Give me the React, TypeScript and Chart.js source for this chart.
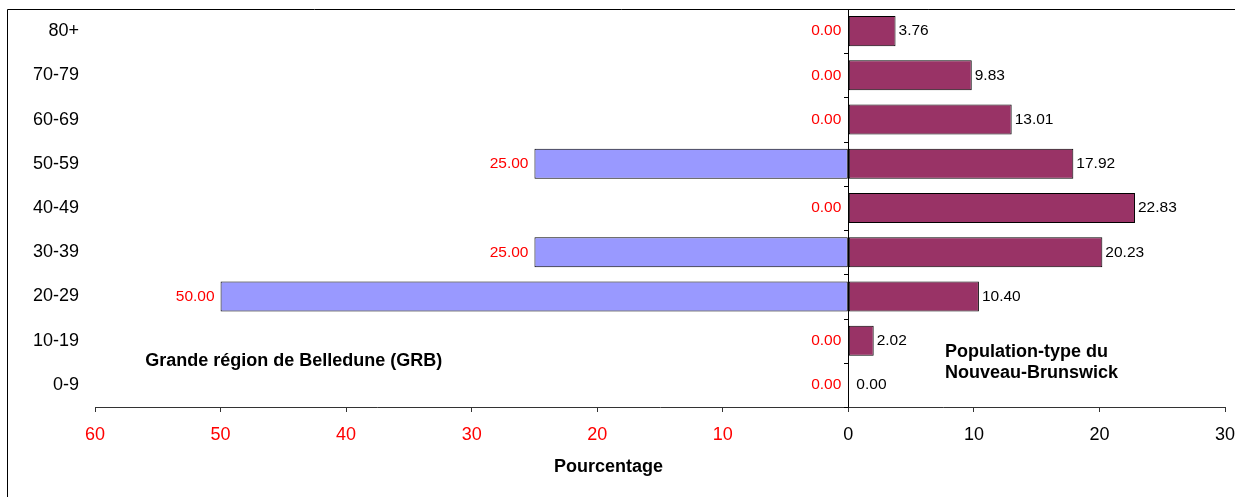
import React, { useEffect, useRef } from "react";
import { Chart, registerables } from "chart.js";

Chart.register(...registerables);

const categories = ["80+", "70-79", "60-69", "50-59", "40-49", "30-39", "20-29", "10-19", "0-9"];
const grbValues = [0.0, 0.0, 0.0, 25.0, 0.0, 25.0, 50.0, 0.0, 0.0];
const nbValues = [3.76, 9.83, 13.01, 17.92, 22.83, 20.23, 10.4, 2.02, 0.0];
const xTicks = [-60, -50, -40, -30, -20, -10, 0, 10, 20, 30];
const grbLabel = "Grande région de Belledune (GRB)";
const nbLabelLines = ["Population-type du", "Nouveau-Brunswick"];
const xTitle = "Pourcentage";

const FONT = "'Liberation Sans', Arial, sans-serif";

const overlayPlugin = {
  id: "overlay",
  afterDatasetsDraw(chart: any) {
    const { ctx, chartArea, scales } = chart;
    const x = scales.x;
    const y = scales.y;
    const zero = x.getPixelForValue(0);
    ctx.save();
    ctx.strokeStyle = "#000";
    ctx.lineWidth = 1;
    ctx.beginPath();
    ctx.moveTo(Math.round(zero) + 0.5, chartArea.top);
    ctx.lineTo(Math.round(zero) + 0.5, chartArea.bottom);
    ctx.stroke();
    const n = categories.length;
    const band = (chartArea.bottom - chartArea.top) / n;
    for (let i = 0; i <= n; i++) {
      const yy = Math.round(chartArea.top + i * band) + 0.5;
      ctx.beginPath();
      ctx.moveTo(Math.round(zero) - 4, yy);
      ctx.lineTo(Math.round(zero) + 0.5, yy);
      ctx.stroke();
    }
    ctx.font = `15.5px ${FONT}`;
    ctx.textBaseline = "middle";
    const m0 = chart.getDatasetMeta(0);
    m0.data.forEach((el: any, i: number) => {
      ctx.fillStyle = "#FF0000";
      ctx.textAlign = "right";
      const gap = grbValues[i] === 0 ? 7 : 6;
      ctx.fillText(grbValues[i].toFixed(2), el.x - gap, el.y);
    });
    const m1 = chart.getDatasetMeta(1);
    m1.data.forEach((el: any, i: number) => {
      ctx.fillStyle = "#000";
      ctx.textAlign = "left";
      const gap = nbValues[i] === 0 ? 8 : 3;
      ctx.fillText(nbValues[i].toFixed(2), el.x + gap, el.y);
    });
    ctx.font = `bold 18px ${FONT}`;
    ctx.fillStyle = "#000";
    ctx.textAlign = "left";
    ctx.fillText(grbLabel, x.getPixelForValue(-56), y.getPixelForValue(7.45));
    ctx.fillText(nbLabelLines[0], x.getPixelForValue(7.7), y.getPixelForValue(7.25));
    ctx.fillText(nbLabelLines[1], x.getPixelForValue(7.7), y.getPixelForValue(7.74));
    ctx.textAlign = "center";
    ctx.fillText(xTitle, x.getPixelForValue(-19.1), chartArea.bottom + 60);
    ctx.strokeStyle = "#000";
    ctx.beginPath();
    ctx.moveTo(7.5, chart.height);
    ctx.lineTo(7.5, 9.5);
    ctx.lineTo(1235, 9.5);
    ctx.stroke();
    ctx.restore();
  },
};

export default function App() {
  const ref = useRef<HTMLCanvasElement>(null);
  useEffect(() => {
    if (!ref.current) return;
    const chart = new Chart(ref.current, {
      type: "bar",
      data: {
        labels: categories,
        datasets: [
          {
            label: "GRB",
            data: grbValues.map((v) => -v),
            backgroundColor: "#9999FF",
            borderColor: "#000",
            borderWidth: 1,
            borderSkipped: false,
            barPercentage: 0.68,
            categoryPercentage: 1,
          },
          {
            label: "NB",
            data: nbValues,
            backgroundColor: "#993366",
            borderColor: "#000",
            borderWidth: 1,
            borderSkipped: false,
            barPercentage: 0.68,
            categoryPercentage: 1,
          },
        ],
      },
      options: {
        indexAxis: "y",
        responsive: false,
        animation: false,
        devicePixelRatio: 1,
        layout: { padding: { top: 9, right: 14, left: 0, bottom: 0 } },
        plugins: {
          legend: { display: false },
          tooltip: { enabled: false },
          title: { display: false },
        },
        scales: {
          x: {
            type: "linear",
            min: -60,
            max: 30,
            stacked: true,
            afterBuildTicks: (scale: any) => {
              scale.ticks = xTicks.map((v) => ({ value: v }));
            },
            afterFit: (scale: any) => {
              scale.height = 90;
              scale.paddingLeft = 0;
              scale.paddingRight = 0;
            },
            ticks: {
              padding: 12,
              maxRotation: 0,
              autoSkip: false,
              font: { family: FONT, size: 18 },
              color: (c: any) => (c.tick && c.tick.value < 0 ? "#FF0000" : "#000"),
              callback: (v: any) => String(Math.abs(Number(v))),
            },
            grid: {
              drawOnChartArea: false,
              drawTicks: true,
              tickLength: 5,
              tickColor: "#333",
            },
            border: { display: true, color: "#333", width: 1 },
          },
          y: {
            stacked: true,
            position: "left",
            afterFit: (scale: any) => {
              scale.width = 95;
              scale.paddingTop = 0;
              scale.paddingBottom = 0;
            },
            ticks: {
              padding: 16,
              font: { family: FONT, size: 18 },
              color: "#000",
            },
            grid: { display: false, drawTicks: false },
            border: { display: false },
          },
        },
      },
      plugins: [overlayPlugin],
    });
    return () => chart.destroy();
  }, []);
  return (
    <div style={{ position: "fixed", left: 0, top: 0, width: 1239, height: 497, background: "#fff" }}>
      <canvas ref={ref} width={1239} height={497} style={{ width: 1239, height: 497, display: "block" }} />
    </div>
  );
}
